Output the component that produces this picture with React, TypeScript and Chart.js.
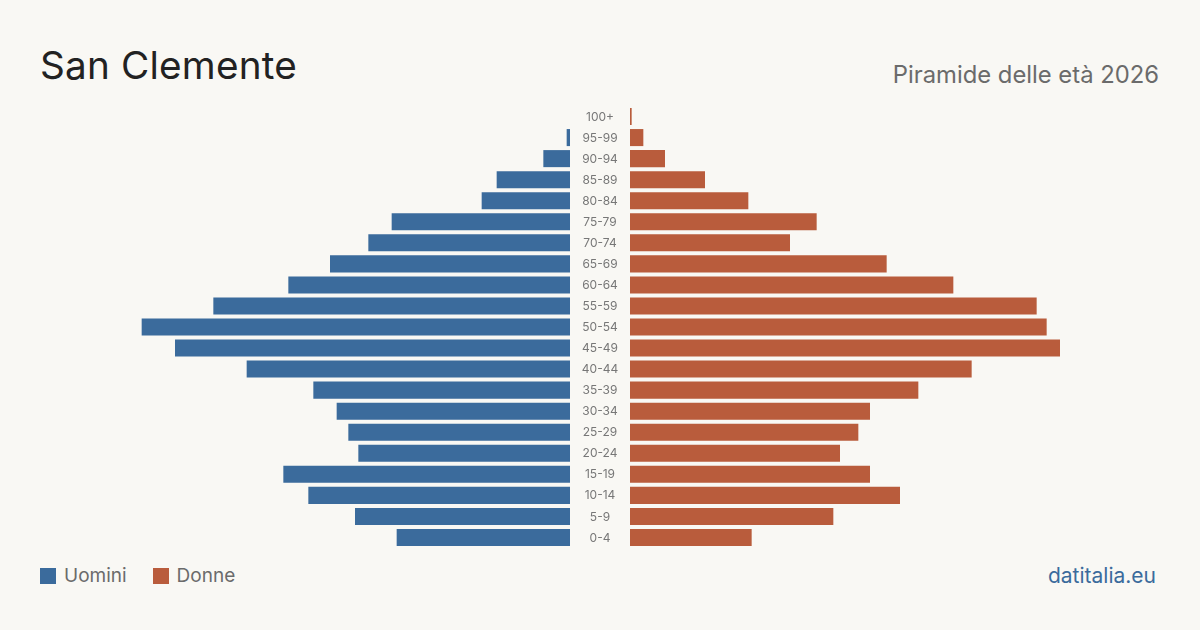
import React, { useEffect, useRef } from "react";
import { Chart, registerables } from "chart.js";

Chart.register(...registerables);

const ageGroups = ["100+", "95-99", "90-94", "85-89", "80-84", "75-79", "70-74", "65-69", "60-64", "55-59", "50-54", "45-49", "40-44", "35-39", "30-34", "25-29", "20-24", "15-19", "10-14", "5-9", "0-4"];
const men = [0, 2, 16, 44, 53, 107, 121, 144, 169, 214, 257, 237, 194, 154, 140, 133, 127, 172, 157, 129, 104];
const women = [1, 8, 21, 45, 71, 112, 96, 154, 194, 244, 250, 258, 205, 173, 144, 137, 126, 144, 162, 122, 73];
const axisMax = 318;

const BLUE = "#3b6b9c";
const ORANGE = "#b95c3c";
const BG = "#f9f8f4";
const FONT = "Inter, 'Noto Sans', sans-serif";

const centerLabels = {
  id: "centerLabels",
  afterDraw(chart: any) {
    const ctx = chart.ctx;
    const yScale = chart.scales.y;
    ctx.save();
    ctx.fillStyle = "#777";
    ctx.font = `12px ${FONT}`;
    ctx.textAlign = "center";
    ctx.textBaseline = "middle";
    const labels = chart.data.labels as string[];
    labels.forEach((lab, i) => {
      ctx.fillText(lab, chart.chartArea.left - 30, yScale.getPixelForValue(i) + 0.5);
    });
    ctx.restore();
  },
};

export default function App() {
  const leftRef = useRef<HTMLCanvasElement | null>(null);
  const rightRef = useRef<HTMLCanvasElement | null>(null);

  useEffect(() => {
    document.body.style.margin = "0";
    document.body.style.background = BG;
    Chart.defaults.font.family = FONT;

    const left = new Chart(leftRef.current!, {
      type: "bar",
      data: {
        labels: ageGroups,
        datasets: [{ label: "Uomini", data: men, backgroundColor: BLUE, barPercentage: 0.81, categoryPercentage: 1 }],
      },
      options: {
        indexAxis: "y",
        animation: false,
        responsive: false,
        maintainAspectRatio: false,
        layout: { padding: 0 },
        plugins: { legend: { display: false }, tooltip: { enabled: false } },
        scales: {
          x: { display: false, reverse: true, min: 0, max: axisMax },
          y: { display: false },
        },
      },
    });

    const right = new Chart(rightRef.current!, {
      type: "bar",
      data: {
        labels: ageGroups,
        datasets: [{ label: "Donne", data: women, backgroundColor: ORANGE, barPercentage: 0.81, categoryPercentage: 1 }],
      },
      options: {
        indexAxis: "y",
        animation: false,
        responsive: false,
        maintainAspectRatio: false,
        layout: { padding: { left: 60, right: 0, top: 0, bottom: 0 } },
        plugins: { legend: { display: false }, tooltip: { enabled: false } },
        scales: {
          x: { display: false, min: 0, max: axisMax },
          y: { display: false },
        },
      },
      plugins: [centerLabels],
    });

    return () => {
      left.destroy();
      right.destroy();
    };
  }, []);

  return (
    <div style={{ position: "relative", width: 1200, height: 630, background: BG, fontFamily: FONT, overflow: "hidden" }}>
      <div style={{ position: "absolute", left: 40, top: 40, fontSize: 38.7, color: "#222", lineHeight: "50px", letterSpacing: 0.2 }}>San Clemente</div>
      <div style={{ position: "absolute", right: 41, top: 59, fontSize: 23.8, color: "#6b6b6b", lineHeight: "32px" }}>Piramide delle età 2026</div>
      <canvas ref={leftRef} width={530} height={442} style={{ position: "absolute", left: 40, top: 106, width: 530, height: 442 }} />
      <canvas ref={rightRef} width={590} height={442} style={{ position: "absolute", left: 570, top: 106, width: 590, height: 442 }} />
      <div style={{ position: "absolute", left: 40, top: 564, display: "flex", alignItems: "center", fontSize: 19, color: "#6b6b6b", lineHeight: "24px" }}>
        <span style={{ display: "inline-block", width: 16, height: 16, background: BLUE, marginRight: 8 }} />
        <span>Uomini</span>
        <span style={{ display: "inline-block", width: 16, height: 16, background: ORANGE, marginLeft: 26, marginRight: 8 }} />
        <span>Donne</span>
      </div>
      <div style={{ position: "absolute", right: 44, top: 563, fontSize: 21, color: BLUE, lineHeight: "26px" }}>datitalia.eu</div>
    </div>
  );
}
